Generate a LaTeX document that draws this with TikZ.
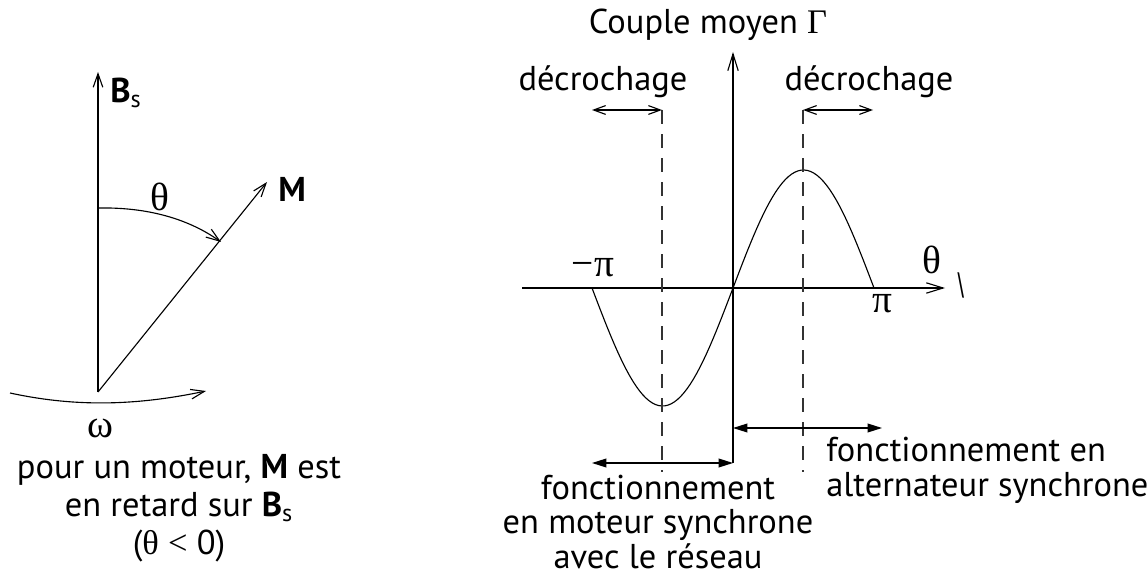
\documentclass[tikz,border=0pt]{standalone}
\usepackage{fontspec}
\setmainfont{PT Sans}
\newfontfamily\symb{Liberation Serif}
\usepackage{tikz}
\usetikzlibrary{arrows.meta,positioning,calc}
\definecolor{MSInk}{HTML}{000000}
\definecolor{MSGuide}{HTML}{333333}
\tikzset{
  axis/.style={-{Straight Barb[length=4.2mm,width=2.6mm]},MSInk,line width=0.8pt},
  vec/.style={-{Straight Barb[length=3.4mm,width=2.4mm]},MSInk,line width=0.8pt},
  gap/.style={{Straight Barb[length=3mm,width=2.2mm]}-{Straight Barb[length=3mm,width=2.2mm]},MSInk,line width=0.8pt},
  zone/.style={{Triangle[length=3.6mm,width=2.2mm]}-{Triangle[length=3.6mm,width=2.2mm]},MSInk,line width=0.9pt},
  guide/.style={MSGuide,line width=0.8pt,dash pattern=on 3.6mm off 2.4mm},
  lbl/.style={text=MSInk,font=\fontsize{24.5}{24.5}\selectfont,inner sep=0pt},
  grk/.style={text=MSInk,font=\fontsize{28}{30}\selectfont\symb,inner sep=0pt},
}
\begin{document}
\begin{tikzpicture}[x=0.025cm,y=-0.025cm]
  \useasboundingbox[fill=white] (0,0) rectangle (1148,576);

  % vecteurs champ tournant
  \coordinate (O) at (98,392);
  \coordinate (Bs) at (98,72);
  \coordinate (Mt) at (267,182);
  \draw[vec] (O) -- (Bs);
  \draw[vec] (O) -- (Mt);
  \node[lbl,anchor=west] (lBs) at (110,93) {\textbf{B}\textsubscript{s}};
  \node[lbl,anchor=west] (lM) at (278,189) {\textbf{M}};
  \coordinate (thA) at (98,208);
  \coordinate (thB) at (221,242);
  \draw[vec] (thA) .. controls (150,207) and (190,220) .. (thB);
  \node[grk] (lth) at (160,197) {θ};
  \coordinate (wA) at (10,393);
  \coordinate (wB) at (206,391);
  \draw[vec] (wA) .. controls (70,406) and (130,407) .. (wB);
  \node[grk] (lw) at (100,428) {ω};
  \node[lbl,align=center] (note) at (179,508)
    {pour un moteur, \textbf{M} est\\[2.5pt]en retard sur \textbf{B}\textsubscript{s}\\[2.5pt]({\symb θ} {\symb <} 0)};

  % couple moyen
  \coordinate (xL) at (522,288);
  \coordinate (xR) at (945,288);
  \coordinate (yB) at (733,463);
  \coordinate (yT) at (733,52);
  \draw[axis] (xL) -- (xR);
  \draw[line width=0.8pt] (yB) -- (733,288);
  \draw[axis] (733,288) -- (yT);
  \node[lbl] (lC) at (708,25) {Couple moyen {\symb Γ}};
  \node[grk] (lthx) at (932,260) {θ};
  \node[lbl,font=\fontsize{26}{28}\selectfont\symb,rotate=-8] (tick) at (961,285) {\textbackslash};
  \node[grk] (lmpi) at (593,268) {−π};
  \node[grk] (lpi) at (882,304) {π};
  \draw[line width=0.8pt] plot[domain=-141:141,samples=90] ({733+\x},{288-118*sin(\x/141*180)});

  \coordinate (dL) at (662,110);
  \coordinate (dR) at (803,110);
  \coordinate (dLb) at (662,472);
  \coordinate (dRb) at (803,472);
  \draw[guide] (dL) -- (dLb);
  \draw[guide] (dR) -- (dRb);
  \coordinate (gL) at (592,110);
  \coordinate (gR) at (873,110);
  \draw[gap] (gL) -- (dL);
  \draw[gap] (dR) -- (gR);
  \node[lbl] (dec1) at (603,82) {décrochage};
  \node[lbl] (dec2) at (869,82) {décrochage};

  \coordinate (mL) at (592,463);
  \coordinate (aR) at (882,428);
  \draw[zone] (mL) -- (yB);
  \draw[zone] (733,428) -- (aR);
  \node[lbl,align=center] (mot) at (658,522)
    {fonctionnement\\en moteur synchrone\\avec le réseau};
  \node[lbl,align=left,anchor=west] (alt) at (826,470)
    {fonctionnement en\\[0.5pt]alternateur synchrone};
\end{tikzpicture}
\end{document}
